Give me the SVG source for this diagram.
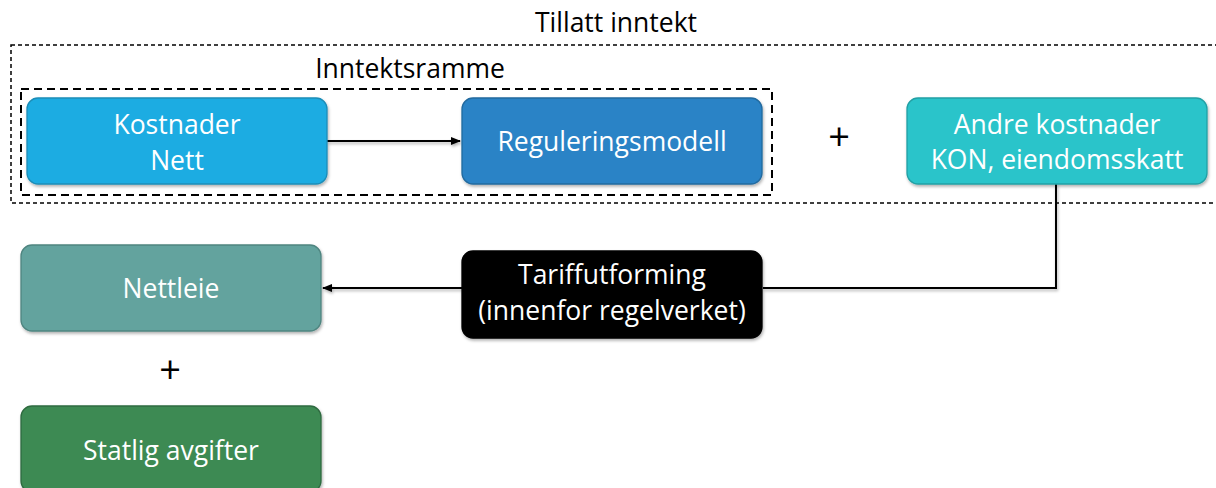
<svg xmlns="http://www.w3.org/2000/svg" width="1216" height="488" viewBox="0 0 1216 488">
<defs>
<style>
.t{font-family:"Open Sans",Lato,"Liberation Sans",sans-serif;font-size:26.5px;text-anchor:middle}
.w{fill:#ffffff}
.k{fill:#000000}
.box{stroke-width:1.3}
.con{fill:none;stroke:#000;stroke-width:2}
.plus{font-family:"Open Sans","Liberation Sans",sans-serif;font-size:38px;text-anchor:middle;fill:#000}
</style>
<marker id="ah" viewBox="0 0 10 10" refX="9" refY="5" markerWidth="5" markerHeight="5" orient="auto-start-reverse" markerUnits="strokeWidth">
<path d="M0,1 L10,5 L0,9 z" fill="#000"/>
</marker>
<filter id="sh" filterUnits="userSpaceOnUse" x="0" y="0" width="1216" height="488">
<feDropShadow dx="1" dy="2" stdDeviation="1.5" flood-color="#000" flood-opacity="0.3"/>
</filter>
</defs>
<rect x="0" y="0" width="1216" height="488" fill="#fff"/>

<g id="group-tillatt">
<rect x="11" y="45" width="1215" height="158" fill="none" stroke="#000" stroke-width="1.5" stroke-dasharray="4,3"/>
<text class="t k" x="616" y="32">Tillatt inntekt</text>
</g>
<g id="group-inntektsramme">
<rect x="21" y="89" width="751" height="106" fill="none" stroke="#000" stroke-width="2" stroke-dasharray="8,5"/>
<text class="t k" x="410" y="78">Inntektsramme</text>
</g>

<g id="connectors" filter="url(#sh)">
<path class="con" d="M327,141 H460" marker-end="url(#ah)"/>
<path class="con" d="M1056,184 V288 H763"/>
<path class="con" d="M462,288 H323" marker-end="url(#ah)"/>
</g>

<g id="kostnader-nett">
<rect class="box" x="27" y="98" width="300" height="86" rx="11" fill="#1EACE2" stroke="#1A8DB8" filter="url(#sh)"/>
<text class="t w" x="177" y="134">Kostnader</text>
<text class="t w" x="177" y="170">Nett</text>
</g>
<g id="reguleringsmodell">
<rect class="box" x="462" y="98" width="300" height="86" rx="11" fill="#2A83C6" stroke="#216A9F" filter="url(#sh)"/>
<text class="t w" x="612" y="151">Reguleringsmodell</text>
</g>
<g id="plus1">
<text class="plus" x="839" y="150">+</text>
</g>
<g id="andre-kostnader">
<rect class="box" x="907" y="98" width="300" height="86" rx="11" fill="#2AC4CA" stroke="#22A0A5" filter="url(#sh)"/>
<text class="t w" x="1057" y="134">Andre kostnader</text>
<text class="t w" x="1057" y="169">KON, eiendomsskatt</text>
</g>
<g id="tariffutforming">
<rect class="box" x="462" y="251" width="300" height="87" rx="11" fill="#000" stroke="#000" filter="url(#sh)"/>
<text class="t w" x="612" y="284">Tariffutforming</text>
<text class="t w" x="612" y="320">(innenfor regelverket)</text>
</g>
<g id="nettleie">
<rect class="box" x="21" y="245" width="300" height="86" rx="11" fill="#63A39E" stroke="#4F8580" filter="url(#sh)"/>
<text class="t w" x="171" y="298">Nettleie</text>
</g>
<g id="plus2">
<text class="plus" x="170" y="383">+</text>
</g>
<g id="statlig-avgifter">
<rect class="box" x="21" y="406" width="300" height="86" rx="11" fill="#3E8A53" stroke="#2F6B40" filter="url(#sh)"/>
<text class="t w" x="171" y="460">Statlig avgifter</text>
</g>
</svg>
